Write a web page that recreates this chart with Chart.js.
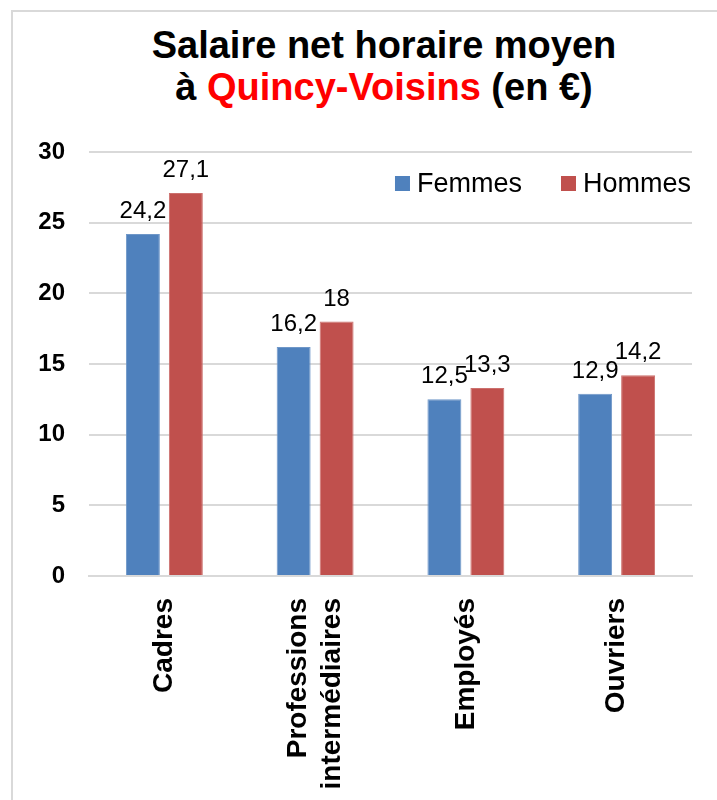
<!DOCTYPE html>
<html>
<head>
<meta charset="utf-8">
<script src="https://cdn.jsdelivr.net/npm/chart.js@4"></script>
<style>
  html, body { margin: 0; padding: 0; background: #fff; width: 717px; height: 800px; overflow: hidden; }
  #frame { position: absolute; left: 11px; top: 10px; width: 760px; height: 820px; border: 2px solid #d9d9d9; box-sizing: border-box; }
  #title { position: absolute; left: 84px; width: 600px; top: 24px; text-align: center;
           font-family: "Liberation Sans", Arial, sans-serif; font-weight: bold; font-size: 38px; line-height: 42px; color: #000; }
  #title .red { color: #ff0000; }
  #c { position: absolute; left: 0; top: 0; }
</style>
</head>
<body>
<div id="frame"></div>
<div id="title">Salaire net horaire moyen<br>à <span class="red">Quincy-Voisins</span> (en €)</div>
<canvas id="c" width="717" height="800"></canvas>
<script>
const categories = [["Cadres"], ["Professions", "intermédiaires"], ["Employés"], ["Ouvriers"]];
const femmes = [24.2, 16.2, 12.5, 12.9];
const hommes = [27.1, 18, 13.3, 14.2];
const seriesNames = ["Femmes", "Hommes"];
const yTicks = [0, 5, 10, 15, 20, 25, 30];

const FONT = '"Liberation Sans", Arial, sans-serif';

const valueLabels = {
  id: 'valueLabels',
  afterDatasetsDraw(chart) {
    const ctx = chart.ctx;
    ctx.save();
    ctx.font = '24px ' + FONT;
    ctx.fillStyle = '#000';
    ctx.textAlign = 'center';
    ctx.textBaseline = 'alphabetic';
    chart.data.datasets.forEach((ds, i) => {
      chart.getDatasetMeta(i).data.forEach((bar, j) => {
        const txt = String(ds.data[j]).replace('.', ',');
        ctx.fillText(txt, bar.x, bar.y - 16);
      });
    });
    ctx.restore();
  }
};

// center multi-line rotated category labels on their tick
const centerMultiline = {
  id: 'centerMultiline',
  beforeDraw(chart) {
    const s = chart.scales.x;
    const items = s.getLabelItems(chart.chartArea);
    items.forEach(it => {
      const n = Array.isArray(it.label) ? it.label.length : 1;
      if (n > 1 && !it._centered) {
        const lh = it.font.lineHeight;
        it.textOffset -= (n - 1) * lh / 2;
        it._centered = true;
      }
    });
  }
};

const innerLegend = {
  id: 'innerLegend',
  afterDraw(chart) {
    const ctx = chart.ctx;
    const area = chart.chartArea;
    const box = 15, gapText = 7, gapItem = 39;
    ctx.save();
    ctx.font = '27px ' + FONT;
    const items = chart.data.datasets.map(ds => ({ text: ds.label, color: ds.backgroundColor, w: ctx.measureText(ds.label).width }));
    let total = 0;
    items.forEach((it, k) => { total += box + gapText + it.w + (k < items.length - 1 ? gapItem : 0); });
    let x = area.right - 1 - total;
    const boxTop = area.top + 24;
    ctx.textBaseline = 'middle';
    ctx.textAlign = 'left';
    items.forEach(it => {
      ctx.fillStyle = it.color;
      ctx.fillRect(x, boxTop, box, box);
      x += box + gapText;
      ctx.fillStyle = '#000';
      ctx.fillText(it.text, x, boxTop + box / 2 + 1);
      x += it.w + gapItem;
    });
    ctx.restore();
  }
};

new Chart(document.getElementById('c'), {
  type: 'bar',
  data: {
    labels: categories,
    datasets: [
      { label: seriesNames[0], data: femmes, backgroundColor: '#4F81BD', borderColor: '#6f97c8', borderWidth: 1 },
      { label: seriesNames[1], data: hommes, backgroundColor: '#C0504D', borderColor: '#cc706d', borderWidth: 1 }
    ]
  },
  options: {
    responsive: false,
    animation: false,
    devicePixelRatio: 1,
    layout: { padding: { top: 152, right: 25, bottom: 0, left: 0 } },
    datasets: { bar: { categoryPercentage: 0.57, barPercentage: 0.79 } },
    plugins: {
      title: { display: false },
      tooltip: { enabled: false },
      legend: { display: false }
    },
    scales: {
      x: {
        grid: { display: false },
        border: { display: true, color: '#d9d9d9', width: 2 },
        ticks: {
          minRotation: 90, maxRotation: 90, autoSkip: false, padding: 14,
          color: '#000',
          font: { family: FONT, size: 28, weight: 'bold' }
        },
        afterFit(s) { s.height = 224; }
      },
      y: {
        min: 0, max: 30,
        afterBuildTicks(s) { s.ticks = yTicks.map(v => ({ value: v })); },
        grid: { color: '#d9d9d9', lineWidth: 2, drawTicks: false },
        border: { display: false },
        ticks: {
          padding: 24,
          color: '#000',
          font: { family: FONT, size: 24, weight: 'bold' }
        },
        afterFit(s) { s.width = 89; }
      }
    }
  },
  plugins: [centerMultiline, valueLabels, innerLegend]
});
</script>
</body>
</html>
